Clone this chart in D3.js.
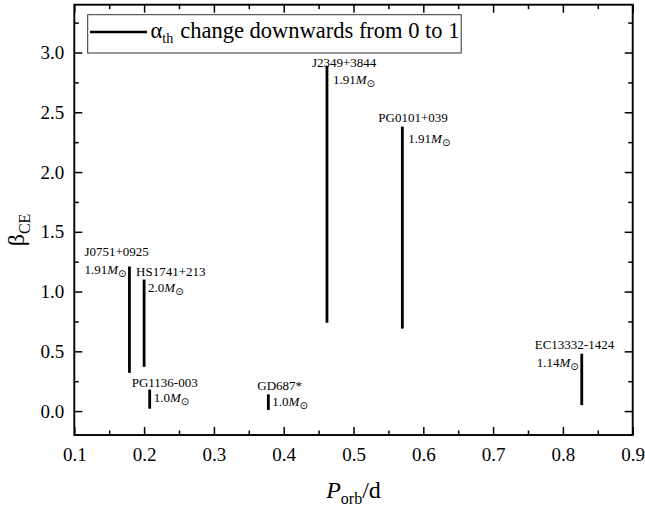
<!DOCTYPE html>
<html>
<head>
<meta charset="utf-8">
<script src="https://cdn.jsdelivr.net/npm/d3@7"></script>
<style>
  html, body { margin: 0; padding: 0; background: #fff; }
  svg, svg text { font-family: "Liberation Serif", "Times New Roman", Times, serif; }
</style>
</head>
<body>
<svg id="chart" width="645" height="510"></svg>
<script>
// Systems and the beta_CE range each spans while alpha_th goes from 0 to 1
const systems   = ["J0751+0925", "HS1741+213", "PG1136-003", "GD687*", "J2349+3844", "PG0101+039", "EC13332-1424"];
const periods   = [0.179, 0.200, 0.208, 0.378, 0.462, 0.570, 0.827];
const betaLow   = [0.32, 0.37, 0.02, 0.01, 0.74, 0.69, 0.05];
const betaHigh  = [1.21, 1.10, 0.18, 0.14, 2.89, 2.38, 0.48];
const massText  = ["1.91", "2.0", "1.0", "1.0", "1.91", "1.91", "1.14"];

const xTicks = [0.1, 0.2, 0.3, 0.4, 0.5, 0.6, 0.7, 0.8, 0.9];
const yTicks = [0.0, 0.5, 1.0, 1.5, 2.0, 2.5, 3.0];

// label placement around the top end of each segment (pixels)
const labelLayout = [
  { nx: -45, ny: -10, mx: -3, my: 8,  mAnchor: "end" },
  { nx: -8,  ny: -4,  mx: 4,  my: 12, mAnchor: "start" },
  { nx: -18, ny: -3,  mx: 4,  my: 12, mAnchor: "start" },
  { nx: -11, ny: -4,  mx: 4,  my: 12, mAnchor: "start" },
  { nx: -15, ny: 1,   mx: 6,  my: 18, mAnchor: "start" },
  { nx: -24, ny: -5,  mx: 6,  my: 16, mAnchor: "start" },
  { nx: -47, ny: -5,  mx: -3, my: 13, mAnchor: "end" }
];

const SERIF = "'Liberation Serif', 'Times New Roman', Times, serif";
const svg = d3.select("#chart");
const plotL = 74.3, plotR = 632.7, plotT = 4.7, plotB = 435;

const x = d3.scaleLinear().domain([0.1, 0.9]).range([plotL, plotR]);
const y = d3.scaleLinear().domain([-0.2, 3.4]).range([plotB, plotT]);

const minorX = d3.range(0.15, 0.9, 0.1);
const minorY = d3.range(-0.25, 3.4, 0.25).filter(v => v > -0.2 && Math.abs((v * 2) - Math.round(v * 2)) > 1e-6);

const fmt = d3.format(".1f");
const majorLen = 8, minorLen = 4.5;

function styleAxis(g) {
  g.attr("font-family", null).style("font-family", SERIF);
  g.selectAll(".domain").remove();
  g.selectAll(".tick line").attr("stroke", "#000").attr("stroke-width", 1.5);
  g.selectAll("text").attr("font-size", 19).style("font-family", SERIF).attr("fill", "#000");
}

// bottom axis (labelled)
svg.append("g").attr("transform", `translate(0,${plotB})`)
  .call(d3.axisBottom(x).tickValues(xTicks).tickFormat(fmt).tickSizeInner(-majorLen).tickSizeOuter(0).tickPadding(13))
  .call(styleAxis);
svg.append("g").attr("transform", `translate(0,${plotB})`)
  .call(d3.axisBottom(x).tickValues(minorX).tickFormat("").tickSizeInner(-minorLen).tickSizeOuter(0))
  .call(styleAxis);
// top axis (ticks only)
svg.append("g").attr("transform", `translate(0,${plotT})`)
  .call(d3.axisTop(x).tickValues(xTicks).tickFormat("").tickSizeInner(-majorLen).tickSizeOuter(0))
  .call(styleAxis);
svg.append("g").attr("transform", `translate(0,${plotT})`)
  .call(d3.axisTop(x).tickValues(minorX).tickFormat("").tickSizeInner(-minorLen).tickSizeOuter(0))
  .call(styleAxis);
// left axis (labelled)
svg.append("g").attr("transform", `translate(${plotL},0)`)
  .call(d3.axisLeft(y).tickValues(yTicks).tickFormat(fmt).tickSizeInner(-majorLen).tickSizeOuter(0).tickPadding(10))
  .call(styleAxis);
svg.append("g").attr("transform", `translate(${plotL},0)`)
  .call(d3.axisLeft(y).tickValues(minorY).tickFormat("").tickSizeInner(-minorLen).tickSizeOuter(0))
  .call(styleAxis);
// right axis (ticks only)
svg.append("g").attr("transform", `translate(${plotR},0)`)
  .call(d3.axisRight(y).tickValues(yTicks).tickFormat("").tickSizeInner(-majorLen).tickSizeOuter(0))
  .call(styleAxis);
svg.append("g").attr("transform", `translate(${plotR},0)`)
  .call(d3.axisRight(y).tickValues(minorY).tickFormat("").tickSizeInner(-minorLen).tickSizeOuter(0))
  .call(styleAxis);

// frame
svg.append("rect")
  .attr("x", plotL).attr("y", plotT)
  .attr("width", plotR - plotL).attr("height", plotB - plotT)
  .attr("fill", "none").attr("stroke", "#000").attr("stroke-width", 1.9);

// vertical segments
svg.append("g").selectAll("line")
  .data(systems)
  .join("line")
  .attr("x1", (d, i) => x(periods[i])).attr("x2", (d, i) => x(periods[i]))
  .attr("y1", (d, i) => y(betaLow[i])).attr("y2", (d, i) => y(betaHigh[i]))
  .attr("stroke", "#000").attr("stroke-width", 2.8);

// system names
svg.append("g").selectAll("text")
  .data(systems)
  .join("text")
  .attr("x", (d, i) => x(periods[i]) + labelLayout[i].nx)
  .attr("y", (d, i) => y(betaHigh[i]) + labelLayout[i].ny)
  .attr("font-size", 13)
  .style("font-family", SERIF)
  .attr("fill", "#000")
  .text(d => d);

// white-dwarf mass labels, e.g. 1.91 M_sun
const massG = svg.append("g").selectAll("text")
  .data(massText)
  .join("text")
  .attr("x", (d, i) => x(periods[i]) + labelLayout[i].mx)
  .attr("y", (d, i) => y(betaHigh[i]) + labelLayout[i].my)
  .attr("text-anchor", (d, i) => labelLayout[i].mAnchor)
  .attr("font-size", 13)
  .style("font-family", SERIF)
  .attr("fill", "#000");
massG.append("tspan").text(d => d);
massG.append("tspan").attr("font-style", "italic").text("M");
massG.append("tspan").attr("font-size", 10).attr("dy", 3).style("font-family", "'DejaVu Sans', sans-serif").text("\u2299");

// legend
const lg = svg.append("g");
lg.append("rect")
  .attr("x", 87.7).attr("y", 14.7).attr("width", 373.5).attr("height", 38.3)
  .attr("fill", "#fff").attr("stroke", "#333").attr("stroke-width", 1);
lg.append("line")
  .attr("x1", 90).attr("x2", 147).attr("y1", 32).attr("y2", 32)
  .attr("stroke", "#000").attr("stroke-width", 2.6);
const lt = lg.append("text").attr("x", 150.5).attr("y", 38).attr("font-size", 22.5)
  .style("font-family", SERIF).attr("fill", "#000");
lt.append("tspan").text("\u03b1");
lt.append("tspan").attr("font-size", 14).attr("dy", 5).text("th");
lt.append("tspan").attr("dy", -5).attr("dx", 7).text("change downwards from 0 to 1");

// axis titles
const xt = svg.append("text")
  .attr("x", (plotL + plotR) / 2).attr("y", 498)
  .attr("text-anchor", "middle").attr("font-size", 24)
  .style("font-family", SERIF).attr("fill", "#000");
xt.append("tspan").attr("font-style", "italic").text("P");
xt.append("tspan").attr("font-size", 16).attr("dy", 6).text("orb");
xt.append("tspan").attr("dy", -6).text("/d");

const yt = svg.append("text")
  .attr("transform", "translate(24,230) rotate(-90)")
  .attr("text-anchor", "middle").attr("font-size", 24)
  .style("font-family", SERIF).attr("fill", "#000");
yt.append("tspan").text("\u03b2");
yt.append("tspan").attr("font-size", 16).attr("dy", 6).text("CE");
</script>
</body>
</html>
